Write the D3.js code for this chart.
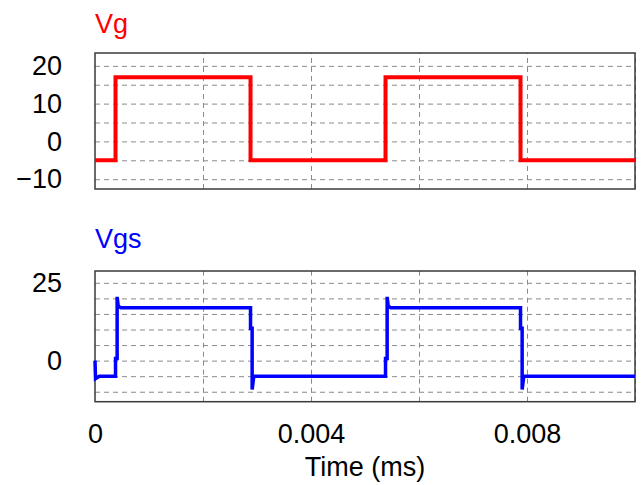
<!DOCTYPE html>
<html>
<head>
<meta charset="utf-8">
<script src="https://cdn.jsdelivr.net/npm/d3@7"></script>
<style>
  body { margin: 0; background: #fff; }
  svg { display: block; font-family: "Liberation Sans", Arial, sans-serif; }
</style>
</head>
<body>
<div id="container"></div>
<script>
/* CONSTANTS AND GLOBALS */
const width = 642,
    height = 485,
    left = 95, right = 635;

// DATA
const vgTime  = [0, 0.00038, 0.00038, 0.00288, 0.00288, 0.00538, 0.00538, 0.00788, 0.00788, 0.01];
const vgValue = [-5, -5, 17, 17, -5, -5, 17, 17, -5, -5];

const vgsTime  = [0, 0.00001, 0.00008, 0.00038, 0.00038, 0.00041, 0.00041, 0.00043, 0.00048,
                  0.00288, 0.00288, 0.00291, 0.00291, 0.00294,
                  0.00538, 0.00538, 0.00541, 0.00541, 0.00543, 0.00548,
                  0.00788, 0.00788, 0.00791, 0.00791, 0.00794, 0.01];
const vgsValue = [0, -5.8, -5, -5, 0.7, 0.7, 20.5, 17.5, 17,
                  17, 10.4, 10.4, -9.3, -5,
                  -5, 0.7, 0.7, 20.5, 17.5, 17,
                  17, 10.4, 10.4, -9.3, -5, -5];

const xTicks = [0, 0.004, 0.008];
const xGrid = [0.002, 0.004, 0.006, 0.008, 0.01];
const vgTicks = [20, 10, 0, -10];
const vgGrid = [20, 15, 10, 5, 0, -5, -10];
const vgsTicks = [25, 0];
const vgsGrid = [25, 20, 15, 10, 5, 0, -5, -10];

// SVG
const svg = d3.select("#container")
    .append("svg")
    .attr("width", width)
    .attr("height", height);

// X SCALE (shared)
const x = d3.scaleLinear().domain([0, 0.01]).range([left, right]);

const panels = [
    { name: "Vg", color: "#ff0000", time: vgTime, value: vgValue, top: 53, bottom: 189,
      domain: [-12.6, 23.4], ticks: vgTicks, grid: vgGrid, labelY: 33, lw: 4 },
    { name: "Vgs", color: "#0000ff", time: vgsTime, value: vgsValue, top: 271, bottom: 401.7,
      domain: [-13.2, 28.8], ticks: vgsTicks, grid: vgsGrid, labelY: 248, lw: 3.5 }
];

panels.forEach(p => {
    const y = d3.scaleLinear().domain(p.domain).range([p.bottom, p.top]);
    const g = svg.append("g");

    // GRID
    g.append("g")
        .attr("transform", `translate(0,${p.bottom})`)
        .call(d3.axisBottom(x).tickValues(xGrid).tickSize(-(p.bottom - p.top)).tickFormat(""))
        .call(s => s.select(".domain").remove())
        .call(s => s.selectAll("line").attr("stroke", "#8a8a8a").attr("stroke-dasharray", "5,4"));

    g.append("g")
        .attr("transform", `translate(${left},0)`)
        .call(d3.axisLeft(y).tickValues(p.grid).tickSize(-(right - left)).tickFormat(""))
        .call(s => s.select(".domain").remove())
        .call(s => s.selectAll("line").attr("stroke", "#8a8a8a").attr("stroke-dasharray", "5,4"));

    // TICK LABELS
    g.append("g")
        .attr("transform", `translate(${left},0)`)
        .call(d3.axisLeft(y).tickValues(p.ticks).tickSize(0).tickPadding(33))
        .call(s => s.select(".domain").remove())
        .call(s => s.selectAll("text").attr("font-size", 27).attr("fill", "#000")
            .attr("font-family", "'Liberation Sans', Arial, sans-serif"));

    // FRAME
    g.append("rect")
        .attr("x", left).attr("y", p.top)
        .attr("width", right - left).attr("height", p.bottom - p.top)
        .attr("fill", "none").attr("stroke", "#3a3a3a").attr("stroke-width", 1.5);

    // TRACE
    const pts = p.time.map((t, i) => [t, p.value[i]]);
    g.append("path")
        .datum(pts)
        .attr("d", d3.line().x(d => x(d[0])).y(d => y(d[1])))
        .attr("fill", "none")
        .attr("stroke", p.color)
        .attr("stroke-width", p.lw)
        .attr("stroke-linejoin", "miter");

    // TITLE
    g.append("text")
        .attr("x", left).attr("y", p.labelY)
        .attr("font-size", 27)
        .attr("fill", p.color)
        .text(p.name);
});

// X AXIS LABELS
svg.append("g")
    .attr("transform", `translate(0,401.7)`)
    .call(d3.axisBottom(x).tickValues(xTicks).tickSize(0).tickPadding(22)
        .tickFormat(d => d === 0 ? "0" : d3.format(".3f")(d)))
    .call(s => s.select(".domain").remove())
    .call(s => s.selectAll("text").attr("font-size", 27).attr("fill", "#000")
        .attr("font-family", "'Liberation Sans', Arial, sans-serif"));

svg.append("text")
    .attr("x", (left + right) / 2).attr("y", 476)
    .attr("text-anchor", "middle")
    .attr("font-size", 27)
    .text("Time (ms)");
</script>
</body>
</html>
